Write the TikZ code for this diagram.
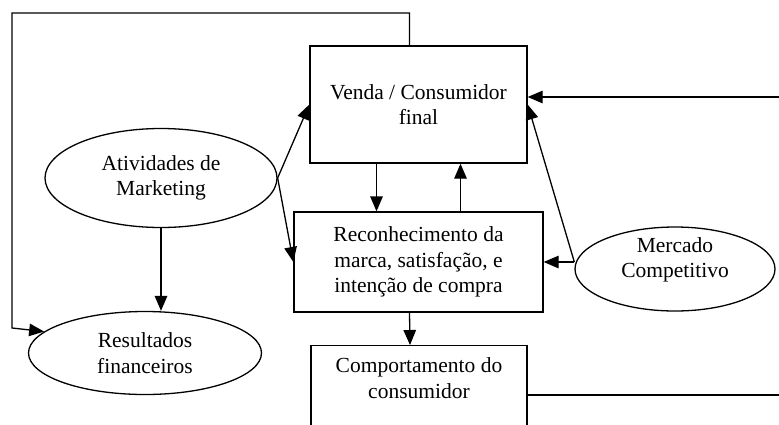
\documentclass[tikz,border=0pt]{standalone}
\usepackage{fontspec}
\setmainfont{Liberation Serif}
\usetikzlibrary{shapes.geometric,arrows.meta}

\begin{document}
\begin{tikzpicture}[x=1pt, y=-1pt, line width=1.3pt, >={Triangle[length=15pt,width=12.5pt]},
	every node/.style={font=\fontsize{21.5}{25.5}\selectfont, align=center},
	box/.style={draw, rectangle, inner sep=0pt},
	oval/.style={draw, ellipse, inner sep=0pt}]
	\useasboundingbox (0,0) rectangle (779,424);
	\clip (0,0) rectangle (779,424);
	\node[box, minimum width=217pt, minimum height=117pt] (venda) at (418.5,104.5) {Venda / Consumidor\\final};
	\node[box, minimum width=249pt, minimum height=100pt] (rec) at (418.5,262) {Reconhecimento da\\marca, satisfação, e\\intenção de compra};
	\node[box, minimum width=216pt, anchor=north, inner ysep=12pt, text depth=70pt] (comp) at (419,345) {Comportamento do\\consumidor};
	\node[oval, minimum width=232pt, minimum height=99pt] (atv) at (161,178) {Atividades de\\Marketing};
	\node[oval, minimum width=233pt, minimum height=83pt] (res) at (145,353) {Resultados\\financeiros};
	\node[oval, minimum width=200pt, minimum height=84pt] (mer) at (675,269) {};
	\node (mertxt) at ([yshift=9pt]mer.center) {Mercado\\Competitivo};
	\coordinate (tl) at (12,13);
	\coordinate (rv) at (779,97);
	\coordinate (rc) at (779,395);
	\draw[->] (atv.east) -- (venda.west);
	\draw[->] (atv.east) -- (rec.west);
	\draw[->] (atv.south) -- (atv.south |- res.north);
	\draw[->] ([xshift=-42pt]venda.south) -- ([xshift=-42pt]rec.north);
	\draw[->] ([xshift=42pt]rec.north) -- ([xshift=42pt]venda.south);
	\draw[->] ([xshift=-9pt]rec.south) -- ([xshift=-9pt]comp.north);
	\draw[->] (mer.west |- rec.east) -- (rec.east);
	\draw[->] (mer.west |- rec.east) -- (venda.east);
	\draw[->] (rv) -- (rv -| venda.east);
	\draw (rc -| comp.east) -- (rc);
	\draw[->] ([xshift=-9pt]venda.north) |- (tl) -- (12,328) -- (res.168);
\end{tikzpicture}
\end{document}
